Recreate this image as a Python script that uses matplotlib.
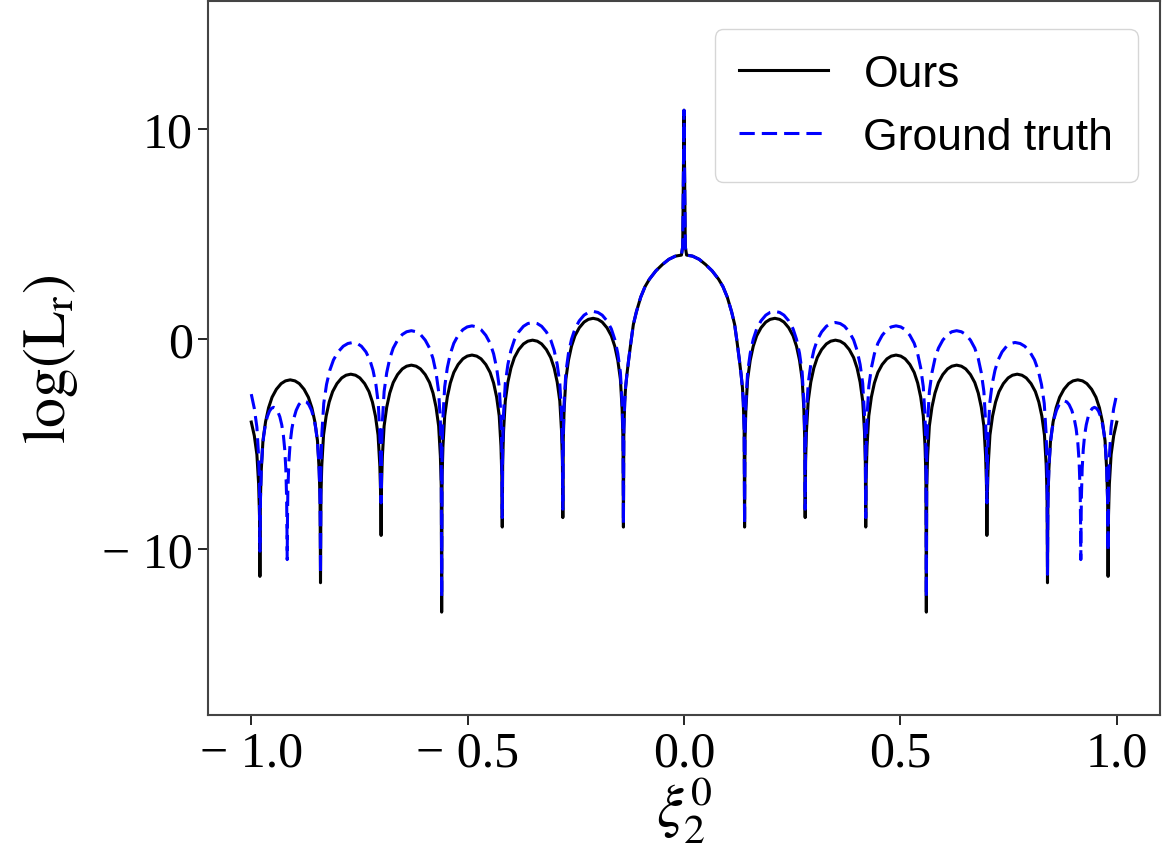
import numpy as np
import matplotlib
matplotlib.use("Agg")
import matplotlib.pyplot as plt
from matplotlib.ticker import FixedLocator, FuncFormatter

plt.rcParams['mathtext.fontset'] = 'stix'

# right half of the curves (x >= 0); the plot is mirror symmetric about x = 0
ours_x = [0.0, 0.003, 0.006, 0.02, 0.035, 0.05, 0.065, 0.08, 0.09, 0.10, 0.11, 0.117,
          0.123, 0.128, 0.132, 0.135, 0.137, 0.139,
          0.14,
          0.141, 0.143, 0.147, 0.153, 0.160, 0.168, 0.178, 0.189, 0.199, 0.21,
          0.221, 0.231, 0.242, 0.252, 0.260, 0.267, 0.273, 0.277, 0.279,
          0.28,
          0.281, 0.283, 0.287, 0.293, 0.300, 0.308, 0.318, 0.329, 0.339, 0.35,
          0.361, 0.371, 0.382, 0.392, 0.400, 0.407, 0.413, 0.417, 0.419,
          0.42,
          0.421, 0.423, 0.427, 0.433, 0.440, 0.448, 0.458, 0.469, 0.479, 0.49,
          0.501, 0.511, 0.522, 0.532, 0.540, 0.547, 0.553, 0.557, 0.559,
          0.56,
          0.561, 0.563, 0.567, 0.573, 0.580, 0.588, 0.598, 0.609, 0.619, 0.63,
          0.641, 0.651, 0.662, 0.672, 0.680, 0.687, 0.693, 0.697, 0.699,
          0.70,
          0.701, 0.703, 0.707, 0.713, 0.720, 0.728, 0.738, 0.749, 0.759, 0.77,
          0.781, 0.791, 0.802, 0.812, 0.820, 0.827, 0.833, 0.837, 0.839,
          0.84,
          0.841, 0.843, 0.847, 0.853, 0.860, 0.868, 0.878, 0.889, 0.899, 0.91,
          0.921, 0.931, 0.942, 0.952, 0.960, 0.967, 0.973, 0.977, 0.979,
          0.98,
          0.981, 0.983, 0.987, 0.993, 1.0]
ours_y = [10.9, 4.4, 4.0, 3.95, 3.8, 3.55, 3.25, 2.85, 2.5, 2.0, 1.3, 0.7,
          -0.2, -1.0, -1.7, -2.3, -3.0, -4.3,
          -8.95,
          -4.77, -3.34, -1.91, -1.01, -0.34, 0.16, 0.54, 0.81, 0.94, 0.99,
          0.94, 0.81, 0.54, 0.16, -0.34, -1.01, -1.91, -3.34, -4.77,
          -8.5,
          -5.81, -4.38, -2.95, -2.05, -1.38, -0.88, -0.50, -0.23, -0.10, -0.05,
          -0.10, -0.23, -0.50, -0.88, -1.38, -2.05, -2.95, -4.38, -5.81,
          -8.95,
          -6.52, -5.09, -3.66, -2.76, -2.09, -1.59, -1.21, -0.94, -0.81, -0.76,
          -0.81, -0.94, -1.21, -1.59, -2.09, -2.76, -3.66, -5.09, -6.52,
          -13.0,
          -7.00, -5.57, -4.14, -3.24, -2.57, -2.07, -1.69, -1.42, -1.29, -1.24,
          -1.29, -1.42, -1.69, -2.07, -2.57, -3.24, -4.14, -5.57, -7.00,
          -9.35,
          -7.43, -6.00, -4.57, -3.67, -3.00, -2.50, -2.12, -1.85, -1.72, -1.67,
          -1.72, -1.85, -2.12, -2.50, -3.00, -3.67, -4.57, -6.00, -7.43,
          -11.6,
          -7.70, -6.27, -4.84, -3.94, -3.27, -2.77, -2.39, -2.12, -1.99, -1.94,
          -1.99, -2.12, -2.39, -2.77, -3.27, -3.94, -4.84, -6.27, -7.70,
          -11.3,
          -8.4, -6.9, -5.5, -4.6, -3.95]

gt_x = [0.0, 0.003, 0.006, 0.02, 0.035, 0.05, 0.065, 0.08, 0.09, 0.10, 0.11, 0.117,
        0.123, 0.128, 0.132, 0.135, 0.137, 0.139,
        0.14,
        0.141, 0.143, 0.147, 0.153, 0.160, 0.168, 0.178, 0.189, 0.199, 0.21,
        0.221, 0.231, 0.242, 0.252, 0.260, 0.267, 0.273, 0.277, 0.279,
        0.28,
        0.281, 0.283, 0.287, 0.293, 0.300, 0.308, 0.318, 0.329, 0.339, 0.35,
        0.361, 0.371, 0.382, 0.392, 0.400, 0.407, 0.413, 0.417, 0.419,
        0.42,
        0.421, 0.423, 0.427, 0.433, 0.440, 0.448, 0.458, 0.469, 0.479, 0.49,
        0.501, 0.511, 0.522, 0.532, 0.540, 0.547, 0.553, 0.557, 0.559,
        0.56,
        0.561, 0.563, 0.567, 0.573, 0.580, 0.588, 0.598, 0.609, 0.619, 0.63,
        0.641, 0.651, 0.662, 0.672, 0.680, 0.687, 0.693, 0.697, 0.699,
        0.70,
        0.701, 0.703, 0.7065, 0.712, 0.7186, 0.726, 0.735, 0.7455, 0.755, 0.765,
        0.7768, 0.7875, 0.7993, 0.81, 0.8186, 0.8261, 0.8325, 0.8368, 0.8389,
        0.84,
        0.8406, 0.8415, 0.8439, 0.8469, 0.8508, 0.8554, 0.8608, 0.867, 0.8723, 0.8785,
        0.8847, 0.89, 0.8962, 0.9016, 0.9062, 0.9101, 0.9131, 0.9155, 0.9164,
        0.917,
        0.9175, 0.9183, 0.9202, 0.9227, 0.9258, 0.9296, 0.934, 0.9391, 0.9435, 0.9485,
        0.9535, 0.9579, 0.963, 0.9674, 0.9712, 0.9743, 0.9768, 0.9787, 0.9795,
        0.98,
        0.981, 0.983, 0.987, 0.993, 1.0]
gt_y = [10.9, 4.4, 4.0, 3.95, 3.8, 3.55, 3.25, 2.85, 2.5, 2.0, 1.3, 0.7,
        -0.2, -1.0, -1.7, -2.3, -3.0, -4.3,
        -8.8,
        -4.44, -3.01, -1.58, -0.68, -0.01, 0.49, 0.87, 1.14, 1.27, 1.32,
        1.27, 1.14, 0.87, 0.49, -0.01, -0.68, -1.58, -3.01, -4.44,
        -8.1,
        -4.97, -3.54, -2.11, -1.21, -0.54, -0.04, 0.34, 0.61, 0.74, 0.79,
        0.74, 0.61, 0.34, -0.04, -0.54, -1.21, -2.11, -3.54, -4.97,
        -8.5,
        -5.13, -3.70, -2.27, -1.37, -0.70, -0.20, 0.18, 0.45, 0.58, 0.63,
        0.58, 0.45, 0.18, -0.20, -0.70, -1.37, -2.27, -3.70, -5.13,
        -12.3,
        -5.36, -3.93, -2.50, -1.60, -0.93, -0.43, -0.05, 0.22, 0.35, 0.40,
        0.35, 0.22, -0.05, -0.43, -0.93, -1.60, -2.50, -3.93, -5.36,
        -7.8,
        -5.92, -4.49, -3.06, -2.16, -1.49, -0.99, -0.61, -0.34, -0.21, -0.16,
        -0.21, -0.34, -0.61, -0.99, -1.49, -2.16, -3.06, -4.49, -5.92,
        -11.2,
        -8.70, -7.27, -5.84, -4.94, -4.27, -3.77, -3.39, -3.12, -2.99, -2.94,
        -2.99, -3.12, -3.39, -3.77, -4.27, -4.94, -5.84, -7.27, -8.70,
        -10.5,
        -9.01, -7.58, -6.15, -5.25, -4.58, -4.08, -3.70, -3.43, -3.30, -3.25,
        -3.30, -3.43, -3.70, -4.08, -4.58, -5.25, -6.15, -7.58, -9.01,
        -10.1,
        -7.0, -5.6, -4.2, -3.3, -2.62]

x_ticks = [-1.0, -0.5, 0.0, 0.5, 1.0]
y_ticks = [-10, 0, 10]


def mirror(xs, ys):
    xs = np.array(xs)
    ys = np.array(ys)
    return (np.concatenate([-xs[::-1], xs[1:]]),
            np.concatenate([ys[::-1], ys[1:]]))


def minus_fmt(fmt):
    return FuncFormatter(lambda v, p: fmt.format(v).replace('-', '\u2212 '))


ox, oy = mirror(ours_x, ours_y)
gx, gy = mirror(gt_x, gt_y)

fig = plt.figure(figsize=(11.76, 8.45), dpi=100)
ax = fig.add_axes([208 / 1176, 1 - 716 / 845, 952 / 1176, 714 / 845])

ax.plot(ox, oy, color='k', lw=2.2, label='Ours')
ax.plot(gx, gy, color='b', lw=2.2, ls='--', dashes=(5, 2.3), label='Ground truth')

ax.set_xlim(-1.1, 1.1)
ax.set_ylim(-17.9, 16.1)
ax.xaxis.set_major_locator(FixedLocator(x_ticks))
ax.yaxis.set_major_locator(FixedLocator(y_ticks))
ax.xaxis.set_major_formatter(minus_fmt('{:.1f}'))
ax.yaxis.set_major_formatter(minus_fmt('{:.0f}'))
ax.tick_params(labelsize=36, length=7, width=1.2, pad=4)
for lab in ax.get_xticklabels() + ax.get_yticklabels():
    lab.set_family('Liberation Serif')
for sp in ax.spines.values():
    sp.set_color('#444444')
    sp.set_linewidth(1.5)

ax.set_xlabel(r'$\xi_2^0$', fontsize=43, labelpad=-2)
ax.set_ylabel(r'$\mathrm{log}(\mathrm{L_r})$', fontsize=43, labelpad=16)

ax.legend(loc='upper right', bbox_to_anchor=(1, 1 - 6 / 714), borderpad=0.55,
          prop={'family': 'Liberation Sans', 'size': 32})

fig.savefig('out.png', dpi=100)
